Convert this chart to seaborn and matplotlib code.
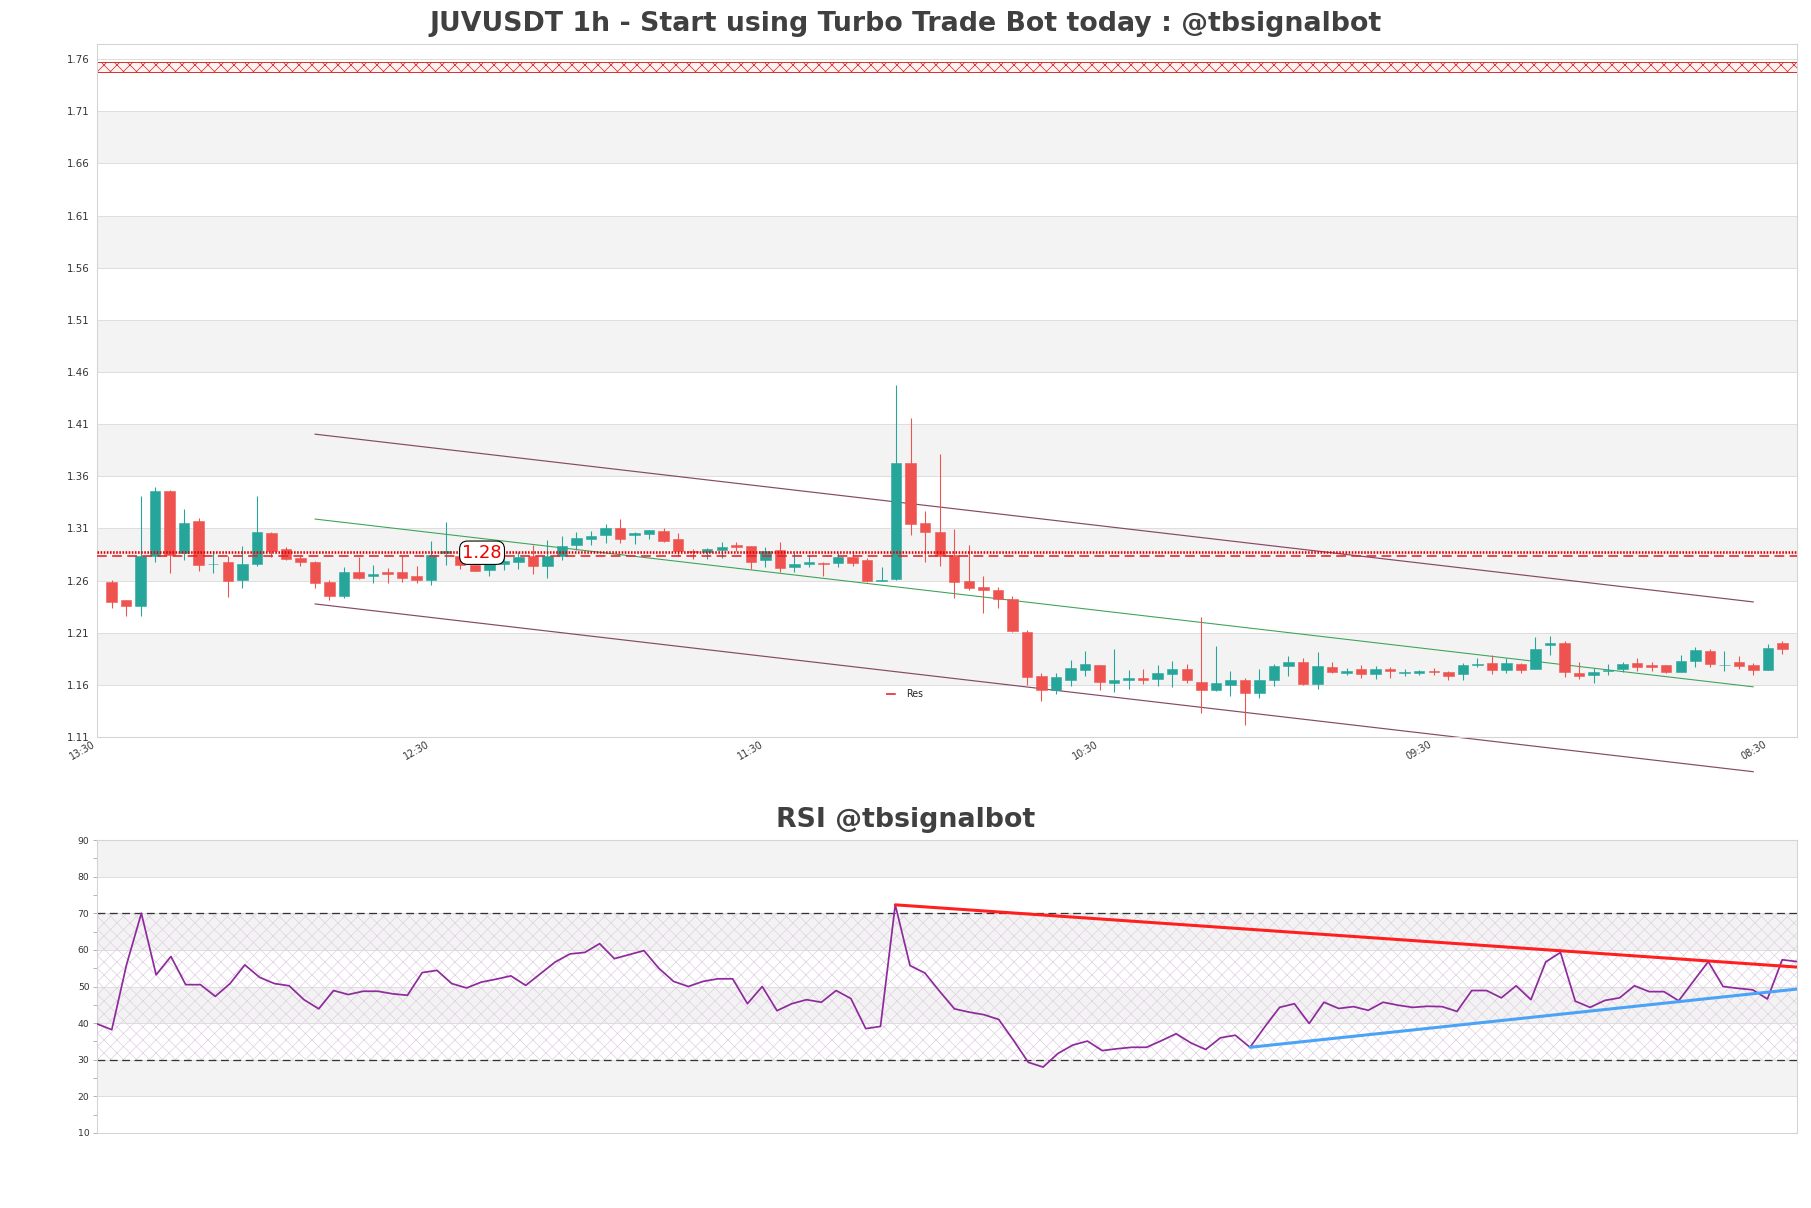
import numpy as np
import matplotlib
matplotlib.use("Agg")
import matplotlib.pyplot as plt
import seaborn as sns

# ---------------- data ----------------
title_main = "JUVUSDT 1h - Start using Turbo Trade Bot today : @tbsignalbot"
title_rsi = "RSI @tbsignalbot"

opens = [1.2590, 1.2411, 1.2353, 1.2832, 1.3461, 1.2864, 1.3174, 1.2756, 1.2775, 1.2603,
         1.2756, 1.3056, 1.2906, 1.2817, 1.2778, 1.2583, 1.2449, 1.2686, 1.2647, 1.2686,
         1.2686, 1.2647, 1.2609, 1.2864, 1.2832, 1.2746, 1.2705, 1.2756, 1.2775, 1.2832,
         1.2737, 1.2839, 1.2944, 1.3002, 1.3034, 1.3104, 1.3034, 1.3046, 1.3078, 1.2998,
         1.2887, 1.2874, 1.2890, 1.2944, 1.2935, 1.2794, 1.2890, 1.2730, 1.2756, 1.2769,
         1.2769, 1.2826, 1.2801, 1.2599, 1.2619, 1.3730, 1.3152, 1.3066, 1.2845, 1.2599,
         1.2542, 1.2513, 1.2424, 1.2108, 1.1689, 1.1549, 1.1645, 1.1741, 1.1795, 1.1619,
         1.1645, 1.1667, 1.1658, 1.1705, 1.1756, 1.1629, 1.1549, 1.1597, 1.1651, 1.1523,
         1.1645, 1.1779, 1.1817, 1.1613, 1.1769, 1.1718, 1.1753, 1.1705, 1.1753, 1.1715,
         1.1715, 1.1737, 1.1721, 1.1705, 1.1788, 1.1811, 1.1747, 1.1804, 1.1753, 1.1980,
         1.2002, 1.1709, 1.1693, 1.1737, 1.1753, 1.1811, 1.1788, 1.1788, 1.1721, 1.1833,
         1.1929, 1.1788, 1.1817, 1.1795, 1.1747, 1.2002]
highs = [1.2609, 1.2417, 1.3414, 1.3497, 1.3471, 1.3286, 1.3200, 1.2880, 1.2832, 1.2935,
         1.3414, 1.3062, 1.2919, 1.2832, 1.2785, 1.2609, 1.2730, 1.2826, 1.2753, 1.2721,
         1.2839, 1.2737, 1.2976, 1.3161, 1.2848, 1.2753, 1.2832, 1.2864, 1.2871, 1.2944,
         1.2992, 1.3030, 1.3066, 1.3075, 1.3145, 1.3193, 1.3066, 1.3088, 1.3104, 1.3056,
         1.2906, 1.2912, 1.2967, 1.2967, 1.2935, 1.2922, 1.2970, 1.2864, 1.2842, 1.2775,
         1.2864, 1.2880, 1.2817, 1.2730, 1.4477, 1.4157, 1.3263, 1.3813, 1.3097, 1.2944,
         1.2647, 1.2539, 1.2449, 1.2130, 1.1715, 1.1715, 1.1836, 1.1929, 1.1795, 1.1948,
         1.1747, 1.1756, 1.1795, 1.1833, 1.1804, 1.2251, 1.1977, 1.1737, 1.1667, 1.1753,
         1.1804, 1.1881, 1.1859, 1.1913, 1.1817, 1.1763, 1.1788, 1.1779, 1.1769, 1.1756,
         1.1747, 1.1763, 1.1731, 1.1811, 1.1859, 1.1891, 1.1859, 1.1811, 1.2057, 1.2073,
         1.2018, 1.1820, 1.1763, 1.1801, 1.1817, 1.1859, 1.1820, 1.1795, 1.1884, 1.1964,
         1.1945, 1.1929, 1.1881, 1.1811, 1.1993, 1.2018]
lows = [1.2341, 1.2264, 1.2264, 1.2775, 1.2673, 1.2794, 1.2689, 1.2673, 1.2440, 1.2526,
        1.2737, 1.2826, 1.2794, 1.2737, 1.2526, 1.2411, 1.2430, 1.2615, 1.2577, 1.2577,
        1.2590, 1.2577, 1.2561, 1.2753, 1.2714, 1.2689, 1.2641, 1.2705, 1.2714, 1.2666,
        1.2625, 1.2794, 1.2896, 1.2938, 1.2960, 1.2960, 1.2951, 1.2998, 1.2967, 1.2832,
        1.2807, 1.2807, 1.2817, 1.2880, 1.2714, 1.2730, 1.2679, 1.2686, 1.2730, 1.2647,
        1.2730, 1.2743, 1.2587, 1.2599, 1.2609, 1.3040, 1.2775, 1.2737, 1.2433, 1.2507,
        1.2290, 1.2338, 1.2105, 1.1594, 1.1444, 1.1517, 1.1587, 1.1689, 1.1549, 1.1530,
        1.1562, 1.1613, 1.1587, 1.1581, 1.1619, 1.1332, 1.1539, 1.1491, 1.1211, 1.1476,
        1.1587, 1.1683, 1.1603, 1.1562, 1.1709, 1.1699, 1.1667, 1.1658, 1.1667, 1.1683,
        1.1699, 1.1699, 1.1651, 1.1651, 1.1769, 1.1705, 1.1715, 1.1715, 1.1753, 1.1884,
        1.1677, 1.1658, 1.1619, 1.1693, 1.1725, 1.1737, 1.1731, 1.1715, 1.1721, 1.1769,
        1.1772, 1.1731, 1.1756, 1.1699, 1.1747, 1.1897]
closes = [1.2392, 1.2353, 1.2832, 1.3461, 1.2848, 1.3152, 1.2753, 1.2762, 1.2593, 1.2762,
          1.3066, 1.2880, 1.2807, 1.2775, 1.2577, 1.2449, 1.2686, 1.2625, 1.2663, 1.2663,
          1.2625, 1.2609, 1.2845, 1.2880, 1.2753, 1.2695, 1.2775, 1.2785, 1.2826, 1.2737,
          1.2839, 1.2935, 1.3008, 1.3030, 1.3104, 1.3002, 1.3056, 1.3081, 1.2976, 1.2880,
          1.2874, 1.2903, 1.2922, 1.2919, 1.2775, 1.2887, 1.2721, 1.2762, 1.2781, 1.2756,
          1.2826, 1.2769, 1.2593, 1.2609, 1.3730, 1.3145, 1.3062, 1.2839, 1.2587, 1.2529,
          1.2507, 1.2424, 1.2114, 1.1677, 1.1549, 1.1677, 1.1763, 1.1804, 1.1626, 1.1651,
          1.1667, 1.1651, 1.1709, 1.1753, 1.1645, 1.1549, 1.1619, 1.1651, 1.1523, 1.1651,
          1.1785, 1.1817, 1.1613, 1.1779, 1.1721, 1.1737, 1.1705, 1.1753, 1.1731, 1.1725,
          1.1731, 1.1721, 1.1689, 1.1795, 1.1801, 1.1747, 1.1811, 1.1741, 1.1945, 1.2002,
          1.1721, 1.1683, 1.1725, 1.1747, 1.1804, 1.1769, 1.1769, 1.1721, 1.1833, 1.1938,
          1.1801, 1.1795, 1.1779, 1.1741, 1.1954, 1.1945]

rsi_values = [39.8, 38.2, 56.0, 70.0, 53.2, 58.2, 50.5, 50.5, 47.3, 50.8,
              55.9, 52.5, 50.8, 50.2, 46.4, 43.9, 48.9, 47.8, 48.7, 48.7,
              48.0, 47.6, 53.8, 54.4, 50.8, 49.6, 51.2, 52.0, 52.9, 50.3,
              53.5, 56.7, 58.9, 59.3, 61.7, 57.6, 58.7, 59.8, 55.0, 51.4,
              50.0, 51.4, 52.1, 52.1, 45.3, 50.0, 43.4, 45.3, 46.4, 45.7,
              48.9, 46.7, 38.5, 39.1, 72.3, 55.7, 53.7, 48.7, 43.9, 43.0,
              42.3, 41.0, 35.3, 29.3, 28.0, 31.7, 34.0, 35.1, 32.5, 33.0,
              33.4, 33.4, 35.2, 37.1, 34.6, 32.8, 36.0, 36.7, 33.4, 39.0,
              44.3, 45.3, 39.9, 45.7, 44.0, 44.5, 43.5, 45.7, 44.9, 44.3,
              44.6, 44.5, 43.2, 48.9, 48.9, 46.9, 50.2, 46.4, 56.7, 59.3,
              46.0, 44.3, 46.2, 46.9, 50.2, 48.6, 48.6, 46.1, 51.5, 56.8,
              50.0, 49.5, 49.1, 46.6, 57.3, 56.8]

price_ticks = [1.11, 1.16, 1.21, 1.26, 1.31, 1.36, 1.41, 1.46, 1.51, 1.56, 1.61, 1.66, 1.71, 1.76]
price_gray_bands = [(1.16, 1.21), (1.26, 1.31), (1.36, 1.41), (1.46, 1.51), (1.56, 1.61), (1.66, 1.71)]
x_tick_pos = [-1, 22, 45, 68, 91, 114]
x_tick_labels = ["13:30", "12:30", "11:30", "10:30", "09:30", "08:30"]

channel_x = [14, 113]
channel_upper = [1.4004, 1.2395]
channel_mid = [1.3190, 1.1581]
channel_lower = [1.2376, 1.0767]

res_zone = (1.748, 1.7575)
res_dotted = 1.2876
res_dashed = 1.2835
price_label = "1.28"
price_label_x = 25.5
price_label_y = 1.2867

rsi_ticks = [10, 20, 30, 40, 50, 60, 70, 80, 90]
rsi_minor = [15, 25, 35, 45, 55, 65, 75, 85]
rsi_gray_bands = [(20, 30), (40, 50), (60, 70), (80, 90)]
rsi_levels = (30, 70)
rsi_down_x = [54, 115]
rsi_down_y = [72.3, 55.3]
rsi_up_x = [78, 115]
rsi_up_y = [33.4, 49.3]

# ---------------- style ----------------
sns.set_theme(style="white")
plt.rcParams['font.family'] = ['DejaVu Sans']
plt.rcParams['hatch.linewidth'] = 0.7

W, H, DPI = 1811, 1208, 78
fig = plt.figure(figsize=(W / DPI, H / DPI), dpi=DPI)
fig.patch.set_facecolor('white')

ax = fig.add_axes([97 / W, 1 - 737 / H, 1700 / W, 693.5 / H])
ax2 = fig.add_axes([97 / W, 1 - 1133 / H, 1700 / W, 293 / H])

GREEN = '#26a69a'
RED = '#ef5350'
SPINE = '#d4d4d4'
BAND = '#f3f3f3'
GRID = '#dedede'

# ---------------- price panel ----------------
ax.set_facecolor('white')
for lo, hi in price_gray_bands:
    ax.axhspan(lo, hi, color=BAND, zorder=0, lw=0)
ax.set_yticks(price_ticks)
ax.yaxis.grid(True, color=GRID, lw=0.9, zorder=0.5)
ax.xaxis.grid(False)
ax.set_axisbelow(True)

ax.axhspan(res_zone[0], res_zone[1], facecolor='#fff3f3', edgecolor='#d9302c',
           hatch='xx', lw=0.9, zorder=1)

o = np.array(opens); h = np.array(highs); l = np.array(lows); c = np.array(closes)
xs = np.arange(len(o))
cols = np.where(c >= o, GREEN, RED)
ax.vlines(xs, l, h, colors=cols, lw=1.0, zorder=3)
ax.bar(xs, c - o, bottom=o, width=0.72, color=cols, edgecolor=cols, lw=0.5, zorder=4)

ax.axhline(res_dotted, color='#e00000', lw=2.4, linestyle=(0, (0.6, 0.6)), zorder=5)
ax.axhline(res_dashed, color='#e3262a', lw=1.5, linestyle=(0, (6, 3.3)), zorder=5, label='Res')

ax.plot(channel_x, channel_upper, color='#874a66', lw=1.1, zorder=2, clip_on=False)
ax.plot(channel_x, channel_lower, color='#874a66', lw=1.1, zorder=2, clip_on=False)
ax.plot(channel_x, channel_mid, color='#3ea35a', lw=1.0, zorder=2, clip_on=False)

ax.text(price_label_x, price_label_y, price_label, color='#ee0000', fontsize=16.5,
        ha='center', va='center', zorder=8,
        bbox=dict(boxstyle='round,pad=0.15,rounding_size=0.45', fc='white', ec='black', lw=1.0))

ax.set_xlim(-1, 116)
ax.set_ylim(1.11, 1.775)
ax.set_yticklabels([f"{t:.2f}" for t in price_ticks])
ax.set_xticks(x_tick_pos)
ax.set_xticklabels(x_tick_labels, rotation=30, ha='right')
ax.tick_params(axis='y', length=0, pad=7, labelsize=9.5, labelcolor='#333333')
ax.tick_params(axis='x', length=0, pad=2, labelsize=9, labelcolor='#333333')
for s in ax.spines.values():
    s.set_color(SPINE)
    s.set_linewidth(1.0)

leg = ax.legend(loc='center', bbox_to_anchor=(0.475, 0.062), frameon=False, fontsize=8.8,
                handlelength=1.05, handletextpad=1.0)

# ---------------- RSI panel ----------------
ax2.set_facecolor('white')
for lo, hi in rsi_gray_bands:
    ax2.axhspan(lo, hi, color=BAND, zorder=0, lw=0)
ax2.axhspan(rsi_levels[0], rsi_levels[1], facecolor='none', edgecolor='#e2d3e6',
            hatch='xx', lw=0, zorder=0.6)
ax2.set_yticks(rsi_ticks)
ax2.set_yticks(rsi_minor, minor=True)
ax2.yaxis.grid(True, which='major', color=GRID, lw=0.9)
ax2.set_axisbelow(True)
for lvl in rsi_levels:
    ax2.axhline(lvl, color='#333333', lw=1.2, linestyle=(0, (6, 3.5)), zorder=2)

rsi_x = np.arange(len(rsi_values))
sns.lineplot(x=rsi_x, y=rsi_values, ax=ax2, color='#8e2a9c', lw=1.6, zorder=4)
sns.lineplot(x=rsi_down_x, y=rsi_down_y, ax=ax2, color='#ff1f1f', lw=2.8, zorder=5)
sns.lineplot(x=rsi_up_x, y=rsi_up_y, ax=ax2, color='#4aa3f5', lw=2.8, zorder=5)

ax2.set_xlim(0, len(rsi_values) - 1)
ax2.set_ylim(10, 90)
ax2.set_xticks([])
ax2.set_xlabel('')
ax2.set_ylabel('')
ax2.tick_params(axis='y', which='both', length=4, width=0.8, color='#aaaaaa',
                labelsize=8.6, labelcolor='#333333', pad=3, left=True)
for s in ax2.spines.values():
    s.set_color(SPINE)
    s.set_linewidth(1.0)

# ---------------- titles ----------------
fig.text(0.5, 1 - 24 / H, title_main, ha='center', va='center', fontsize=24.7,
         fontweight='bold', color='#404040')
fig.text(0.5, 1 - 820 / H, title_rsi, ha='center', va='center', fontsize=24.7,
         fontweight='bold', color='#404040')

fig.savefig('out.png', dpi=DPI, facecolor='white')
